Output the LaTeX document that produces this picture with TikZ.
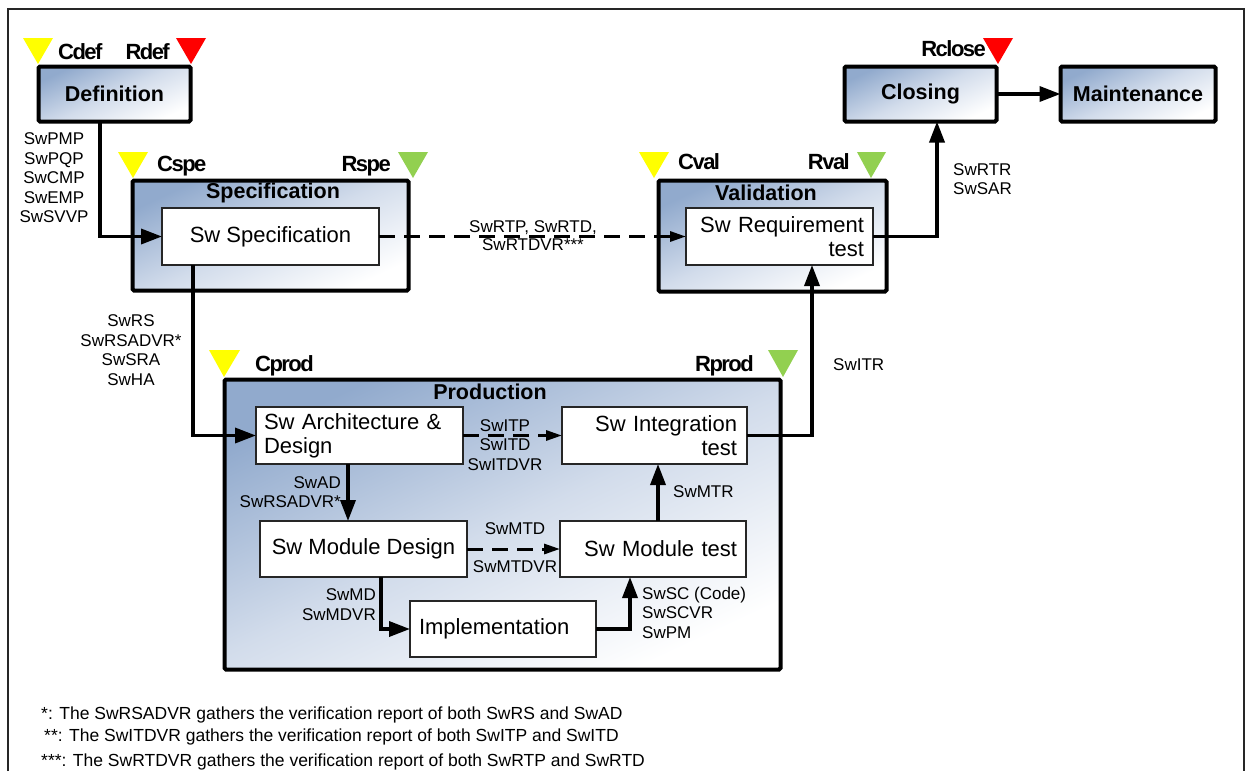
\documentclass[tikz,border=0pt]{standalone}
\usepackage{fontspec}
\setmainfont{Liberation Sans}
\newfontfamily\tagfont{Liberation Sans}[LetterSpace=-7]
\usetikzlibrary{arrows.meta}
\definecolor{boxblue}{RGB}{145,170,205}
\definecolor{boxmid}{RGB}{210,220,235}
\definecolor{gateyellow}{RGB}{255,255,0}
\definecolor{gatered}{RGB}{255,0,0}
\definecolor{gategreen}{RGB}{146,208,80}
\begin{document}
\begin{tikzpicture}[x=1pt,y=-1pt,
  phase/.style={draw=black, line width=4pt, rounded corners=1.5pt,
    left color=boxblue, right color=white, middle color=boxmid, shading angle=25,
    inner sep=0pt, outer sep=0pt},
  task/.style={draw=black!85, line width=1.3pt, fill=white, inner sep=0pt, outer sep=0pt,
    font=\fontsize{22}{24}\selectfont},
  title/.style={font=\fontsize{21.5}{24}\selectfont\bfseries, inner sep=0pt},
  gatetag/.style={font=\fontsize{22}{24}\selectfont\tagfont\bfseries, inner sep=0pt},
  lbl/.style={font=\fontsize{17}{19.5}\selectfont, inner sep=0pt},
  note/.style={font=\fontsize{17.5}{20}\selectfont, inner sep=0pt, anchor=base west},
  flow/.style={line width=3.5pt, -{Triangle[length=21pt,width=15pt]}},
  docflow/.style={line width=3pt, dash pattern=on 16pt off 9pt, -{Triangle[length=16pt,width=10pt]}}
]
\useasboundingbox (0,0) rectangle (1246,771);

% outer frame
\draw[line width=1.5pt, black!85] (8,771) -- (8,9) -- (1244,9) -- (1244,771);

% milestone gates
\fill[gateyellow] (23,38) -- (53,38) -- (38,64) -- cycle;
\fill[gatered] (176,38) -- (206,38) -- (191,64) -- cycle;
\fill[gatered] (983,38) -- (1013,38) -- (998,64) -- cycle;
\fill[gateyellow] (118,152) -- (148,152) -- (133,178) -- cycle;
\fill[gategreen] (398,152) -- (428,152) -- (413,178) -- cycle;
\fill[gateyellow] (639,152) -- (669,152) -- (654,178) -- cycle;
\fill[gategreen] (857,152) -- (886,152) -- (871,178) -- cycle;
\fill[gateyellow] (209,350) -- (240,350) -- (224,377) -- cycle;
\fill[gategreen] (768,350) -- (798,350) -- (783,377) -- cycle;

\node[gatetag, anchor=base west] (tcdef) at (58,59) {Cdef};
\node[gatetag, anchor=base east] (trdef) at (170,59) {Rdef};
\node[gatetag, anchor=base east] (trclose) at (986,56) {Rclose};
\node[gatetag, anchor=base west] (tcspe) at (157,171) {Cspe};
\node[gatetag, anchor=base east] (trspe) at (391,171) {Rspe};
\node[gatetag, anchor=base west] (tcval) at (678,169) {Cval};
\node[gatetag, anchor=base east] (trval) at (850,169) {Rval};
\node[gatetag, anchor=base west] (tcprod) at (255,371) {Cprod};
\node[gatetag, anchor=base east] (trprod) at (754,371) {Rprod};

% phases
\node[phase, minimum width=152, minimum height=55] (def) at (114.5,94) {};
\node[title] at (def.center) {Definition};
\node[phase, minimum width=152, minimum height=55] (clo) at (920.5,94) {};
\node[title] at (clo.center) {Closing};
\node[phase, minimum width=155, minimum height=55] (mai) at (1138,94) {};
\node[title] at (mai.center) {Maintenance};
\node[phase, minimum width=276, minimum height=110] (spec) at (270.5,235.5) {};
\node[title] at (273,193) {Specification};
\node[phase, minimum width=228, minimum height=111] (val) at (772.5,236) {};
\node[title] at (766,193) {Validation};
\node[phase, minimum width=556, minimum height=290] (prod) at (502.5,524.5) {};
\node[title] at (490,392) {Production};

% activities
\node[task, minimum width=217, minimum height=57] (sws) at (270.5,236.5) {Sw Specification};
\node[task, minimum width=187, minimum height=57, text width=169, align=right] (swr) at (779.5,236.5) {Sw Requirement\\test};
\node[task, minimum width=207, minimum height=57, text width=191, align=left] (arch) at (359.5,435.5) {Sw Architecture \&\\Design};
\node[task, minimum width=185, minimum height=57, text width=165, align=right] (integ) at (654.5,435.5) {Sw Integration\\test};
\node[task, minimum width=207, minimum height=56] (md) at (363.5,549) {Sw Module Design};
\node[task, minimum width=186, minimum height=56, text width=168, align=right] (mt) at (653,549) {Sw Module test};
\node[task, minimum width=186, minimum height=56, text width=168, align=left] (impl) at (503,629) {Implementation};

% flows
\draw[flow] ([xshift=-14.5]def.south) |- (sws.west);
\draw[flow] ([xshift=-77.5]sws.south) |- (arch.west);
\draw[docflow] (sws.east) -- (swr.west);
\draw[flow] (swr.east) -| ([xshift=16.5]clo.south);
\draw[flow] (clo.east) -- (mai.west);
\draw[docflow] (arch.east) -- (integ.west);
\draw[flow] (integ.east) -| ([xshift=32.5]swr.south);
\draw[flow] ([xshift=-11.5]arch.south) -- ([xshift=-11.5]arch.south |- md.north);
\draw[docflow] (md.east) -- (mt.west);
\draw[flow] ([xshift=5]mt.north) -- ([xshift=5]mt.north |- integ.south);
\draw[flow] ([xshift=17.5]md.south) |- (impl.west);
\draw[flow] (impl.east) -| ([xshift=-23]mt.south);

% deliverables
\node[lbl, align=center] (ldef) at (54,178) {SwPMP\\SwPQP\\SwCMP\\SwEMP\\SwSVVP};
\node[lbl, align=center] (lspec) at (131,350) {SwRS\\SwRSADVR*\\SwSRA\\SwHA};
\node[lbl, align=center, font=\fontsize{17}{18}\selectfont] (lrt) at (533,236) {SwRTP, SwRTD,\\SwRTDVR***};
\node[lbl, align=left, anchor=west] (lclo) at (953,179) {SwRTR\\SwSAR};
\node[lbl, anchor=west] (litr) at (833,365) {SwITR};
\node[lbl, align=center] (lit) at (505,445) {SwITP\\SwITD\\SwITDVR};
\node[lbl, align=right, anchor=east] (lad) at (341,492) {SwAD\\SwRSADVR*};
\node[lbl] (lmtd) at (515,529) {SwMTD};
\node[lbl] (lmtdvr) at (515,567) {SwMTDVR};
\node[lbl, anchor=west] (lmtr) at (673,492) {SwMTR};
\node[lbl, align=right, anchor=east] (lmd) at (376,604.5) {SwMD\\SwMDVR};
\node[lbl, align=left, anchor=west] (lsc) at (642,612.5) {SwSC (Code)\\SwSCVR\\SwPM};

% footnotes
\node[note] (n1) at (41,719) {*: The SwRSADVR gathers the verification report of both SwRS and SwAD};
\node[note] (n2) at (44,741) {**: The SwITDVR gathers the verification report of both SwITP and SwITD};
\node[note] (n3) at (41,766) {***: The SwRTDVR gathers the verification report of both SwRTP and SwRTD};
\end{tikzpicture}
\end{document}
